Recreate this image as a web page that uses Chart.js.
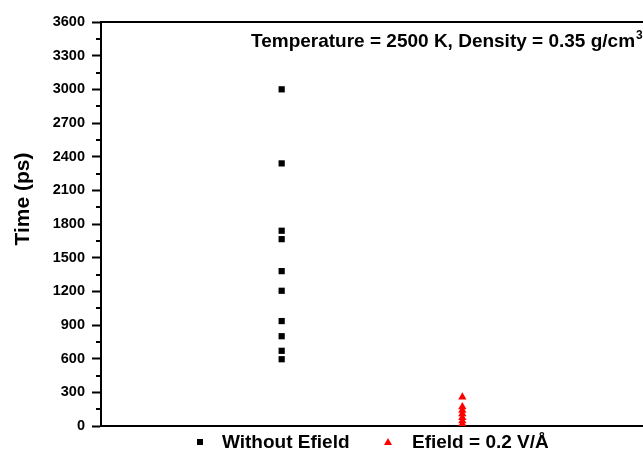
<!DOCTYPE html>
<html>
<head>
<meta charset="utf-8">
<script src="https://cdn.jsdelivr.net/npm/chart.js@4.4.1/dist/chart.umd.min.js"></script>
<style>
  html, body { margin: 0; padding: 0; background: #fff; }
  #wrap { width: 643px; height: 452px; position: relative; }
</style>
</head>
<body>
<div id="wrap"><canvas id="c" width="643" height="452"></canvas></div>
<script>
// ---- data ----
const categories = ['Without Efield', 'Efield = 0.2 V/Å'];
const categoryPositions = [1, 2];
const withoutEfield = [3000, 2340, 1740, 1665, 1380, 1205, 935, 800, 670, 595];
const withEfield = [258, 170, 140, 108, 75, 45, 18];
const yMin = 0, yMax = 3600, yStep = 300;
const yTitle = 'Time (ps)';
const annotationMain = 'Temperature = 2500 K, Density = 0.35 g/cm';
const annotationSup = '3';

const FONT = '"Liberation Sans", Arial, Helvetica, sans-serif';

const toPoints = (vals, xPos) => vals.map(v => ({ x: xPos, y: v }));

const decorPlugin = {
  id: 'decor',
  afterDraw(chart) {
    const ctx = chart.ctx;
    const area = chart.chartArea;
    const ys = chart.scales.y;
    ctx.save();
    // top frame line
    ctx.strokeStyle = '#000';
    ctx.lineWidth = 2;
    ctx.beginPath();
    ctx.moveTo(area.left - 1, area.top);
    ctx.lineTo(chart.width, area.top);
    ctx.stroke();
    // minor ticks
    for (let v = yMin + yStep / 2; v < yMax; v += yStep) {
      const py = Math.round(ys.getPixelForValue(v));
      ctx.beginPath();
      ctx.moveTo(area.left - 5, py);
      ctx.lineTo(area.left, py);
      ctx.stroke();
    }
    // y-axis title
    ctx.fillStyle = '#000';
    ctx.font = 'bold 21px ' + FONT;
    ctx.textAlign = 'center';
    ctx.textBaseline = 'middle';
    ctx.translate(23, 199);
    ctx.rotate(-Math.PI / 2);
    ctx.fillText(yTitle, 0, 0);
    ctx.restore();

    // annotation
    ctx.save();
    ctx.fillStyle = '#000';
    ctx.font = 'bold 19px ' + FONT;
    ctx.textAlign = 'left';
    ctx.textBaseline = 'alphabetic';
    ctx.fillText(annotationMain, 251, 47);
    const w = ctx.measureText(annotationMain).width;
    ctx.font = 'bold 12px ' + FONT;
    ctx.fillText(annotationSup, 251 + w + 1, 39);
    ctx.restore();

    // legend
    ctx.save();
    const ds = chart.data.datasets;
    const legendItems = [
      { sx: 200, tx: 222, y: 442 },
      { sx: 388, tx: 412, y: 442 }
    ];
    ds.forEach((d, i) => {
      const it = legendItems[i];
      ctx.fillStyle = d.backgroundColor;
      if (d.pointStyle === 'rect') {
        ctx.fillRect(it.sx - 3, it.y - 3, 6, 6);
      } else {
        ctx.beginPath();
        ctx.moveTo(it.sx, it.y - 4);
        ctx.lineTo(it.sx + 4, it.y + 3);
        ctx.lineTo(it.sx - 4, it.y + 3);
        ctx.closePath();
        ctx.fill();
      }
      ctx.fillStyle = '#000';
      ctx.font = 'bold 19px ' + FONT;
      ctx.textAlign = 'left';
      ctx.textBaseline = 'middle';
      ctx.fillText(d.label, it.tx, it.y + 1);
    });
    ctx.restore();
  }
};

new Chart(document.getElementById('c'), {
  type: 'scatter',
  data: {
    datasets: [
      {
        label: categories[0],
        data: toPoints(withoutEfield, categoryPositions[0]),
        pointStyle: 'rect',
        pointRadius: 4.4,
        pointHoverRadius: 4.4,
        backgroundColor: '#000000',
        borderColor: '#000000',
        borderWidth: 0
      },
      {
        label: categories[1],
        data: toPoints(withEfield, categoryPositions[1]),
        pointStyle: 'triangle',
        pointRadius: 4.8,
        pointHoverRadius: 4.8,
        backgroundColor: '#ff0000',
        borderColor: '#ff0000',
        borderWidth: 0
      }
    ]
  },
  options: {
    responsive: false,
    animation: false,
    events: [],
    layout: { autoPadding: false, padding: { top: 22, bottom: 26, left: 0, right: 0 } },
    plugins: {
      legend: { display: false },
      tooltip: { enabled: false },
      title: { display: false }
    },
    scales: {
      x: {
        type: 'linear',
        min: 0,
        max: 3,
        grid: { display: false, drawTicks: false },
        ticks: { display: false },
        border: { display: true, color: '#000', width: 2 },
        afterFit(scale) {
          scale.height = 0;
          scale.paddingLeft = 0;
          scale.paddingRight = 0;
        }
      },
      y: {
        type: 'linear',
        min: yMin,
        max: yMax,
        ticks: {
          stepSize: yStep,
          color: '#000',
          padding: 7,
          font: { family: FONT, size: 14.5, weight: 'bold' },
          callback: v => String(v)
        },
        grid: {
          display: true,
          drawOnChartArea: false,
          drawTicks: true,
          tickLength: 9,
          tickWidth: 2,
          tickColor: '#000'
        },
        border: { display: true, color: '#000', width: 2 },
        afterFit(scale) { scale.width = 101; }
      }
    }
  },
  plugins: [decorPlugin]
});
</script>
</body>
</html>
